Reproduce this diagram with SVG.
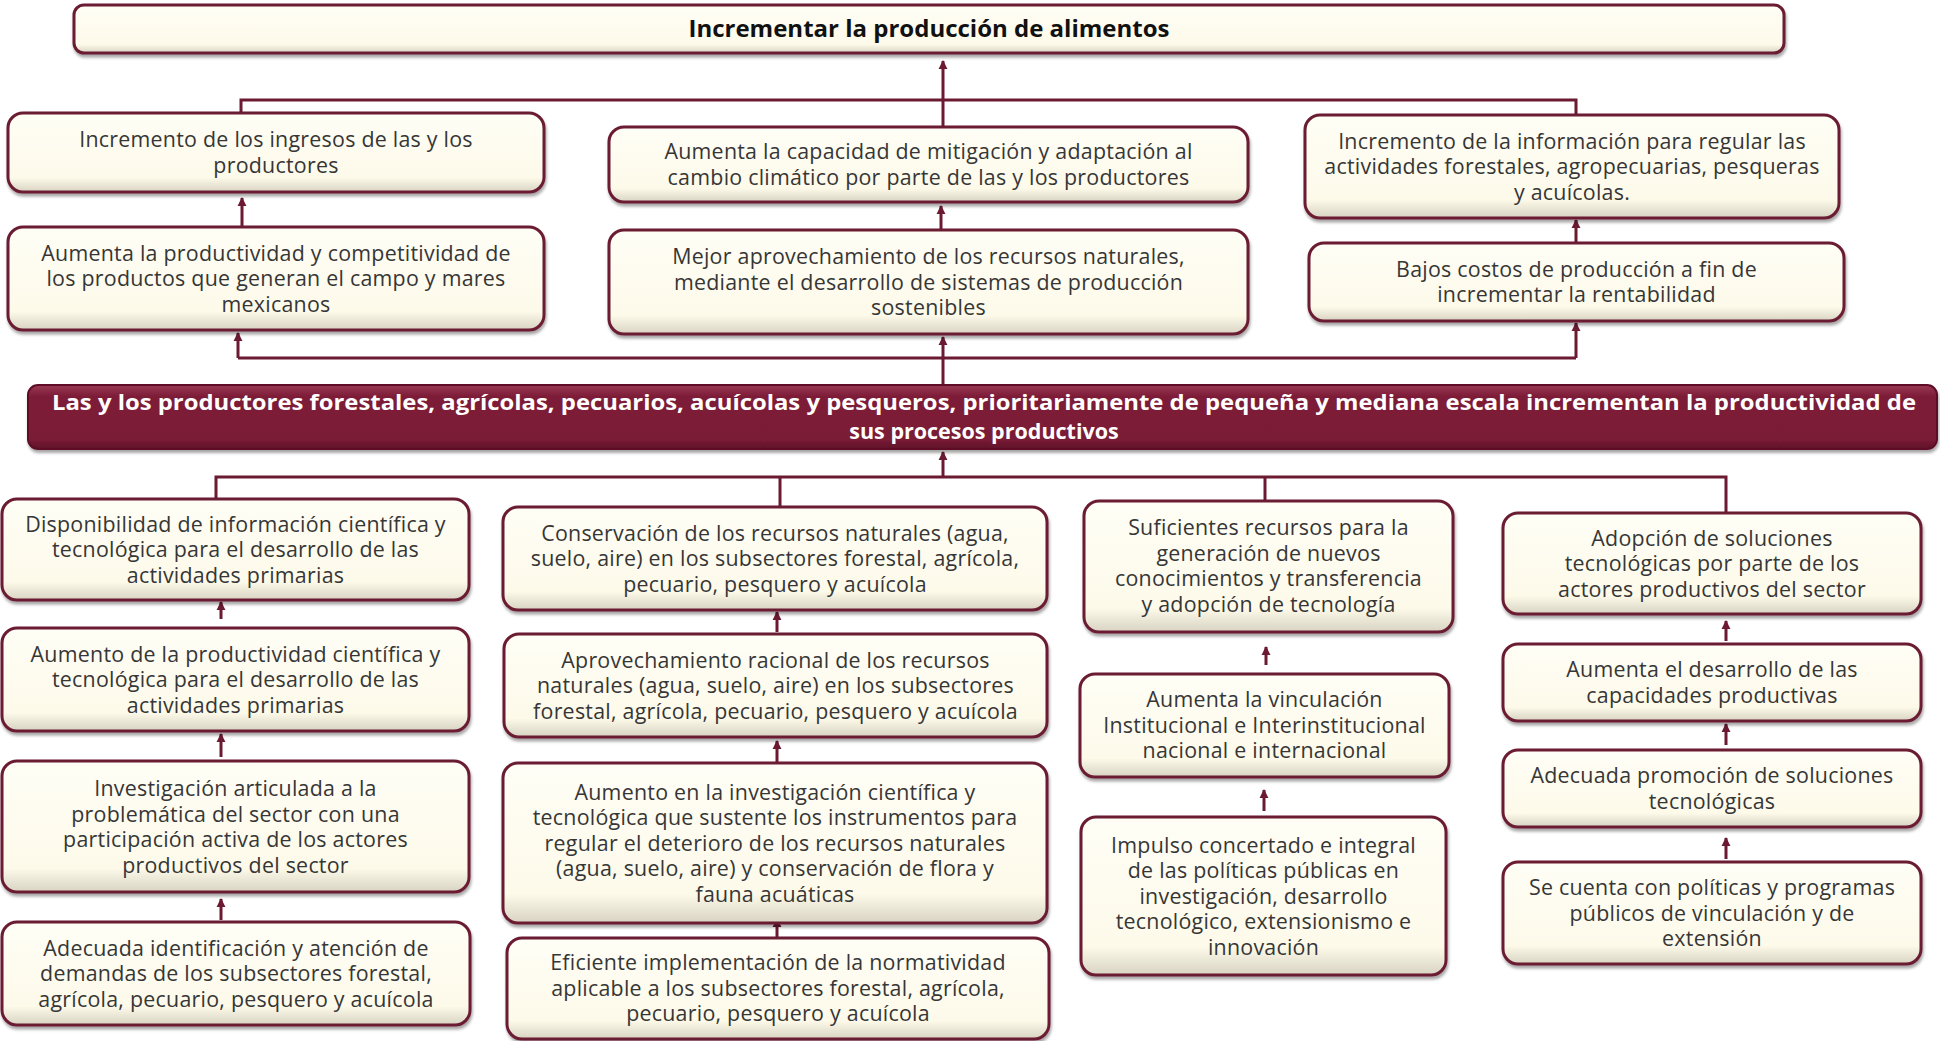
<svg xmlns="http://www.w3.org/2000/svg" width="1940" height="1041" viewBox="0 0 1940 1041">
<defs>
<linearGradient id="cream" x1="0" y1="0" x2="0" y2="1">
<stop offset="0" stop-color="#fffef6"/>
<stop offset="0.82" stop-color="#fdfaea"/>
<stop offset="1" stop-color="#d8d3c2"/>
</linearGradient>
<linearGradient id="wine" x1="0" y1="0" x2="0" y2="1">
<stop offset="0" stop-color="#9a3a55"/>
<stop offset="0.18" stop-color="#7c1d37"/>
<stop offset="0.85" stop-color="#7a1c36"/>
<stop offset="1" stop-color="#5e1028"/>
</linearGradient>
<filter id="sh" x="-5%" y="-10%" width="110%" height="130%">
<feDropShadow dx="1" dy="3" stdDeviation="1.5" flood-color="#000" flood-opacity="0.35"/>
</filter>
<marker id="ah" viewBox="0 0 10 10" refX="9" refY="5" markerWidth="9" markerHeight="10" markerUnits="userSpaceOnUse" orient="auto">
<path d="M0,0 L10,5 L0,10 z" fill="#6b1a31"/>
</marker>
<style>
.box{fill:url(#cream);stroke:#6b1a31;stroke-width:3;filter:url(#sh)}
.main{fill:url(#wine);stroke:#5e1028;stroke-width:2;filter:url(#sh)}
.t{font-family:"Open Sans","Liberation Sans",sans-serif;font-size:21.4px;letter-spacing:0.25px;fill:#363636;text-anchor:middle}
.tb{font-family:"Open Sans","Liberation Sans",sans-serif;font-size:24px;font-weight:bold;fill:#111;text-anchor:middle}
.tw{font-family:"Open Sans","Liberation Sans",sans-serif;font-size:21.5px;font-weight:bold;fill:#fff;text-anchor:middle}
.c{fill:none;stroke:#6b1a31;stroke-width:3}
.a{fill:none;stroke:#6b1a31;stroke-width:3;marker-end:url(#ah)}
</style>
</defs>

<g id="connectors">
<path class="a" d="M943,127 V61"/>
<path class="c" d="M241,113 V100 H1576 V115"/>
<path class="a" d="M242,227 V198"/>
<path class="a" d="M941,230 V206"/>
<path class="a" d="M1576,243 V220"/>
<path class="c" d="M238,358 H1576"/>
<path class="a" d="M238,358 V333"/>
<path class="a" d="M1576,358 V323"/>
<path class="a" d="M943,385 V337"/>
<path class="a" d="M943,477 V452"/>
<path class="c" d="M216,498 V477 H1726 V513"/>
<path class="c" d="M780,477 V507"/>
<path class="c" d="M1265,477 V501"/>
<path class="a" d="M221,619 V602"/>
<path class="a" d="M221,757 V734"/>
<path class="a" d="M221,920 V899"/>
<path class="a" d="M777,632 V612"/>
<path class="a" d="M777,762 V741"/>
<path class="a" d="M777,938 V919"/>
<path class="a" d="M1266,665 V647"/>
<path class="a" d="M1264,811 V790"/>
<path class="a" d="M1726,641 V621"/>
<path class="a" d="M1726,745 V724"/>
<path class="a" d="M1726,859 V838"/>
</g>

<g id="n-top"><rect class="box" x="74" y="5" width="1710" height="48" rx="10"/>
<text class="tb" x="929" y="37">Incrementar la producción de alimentos</text></g>

<g id="n-e1"><rect class="box" x="8" y="113" width="536" height="79" rx="15"/>
<text class="t" x="276"><tspan x="276" y="147">Incremento de los ingresos de las y los</tspan><tspan x="276" y="173">productores</tspan></text></g>
<g id="n-e2"><rect class="box" x="609" y="127" width="639" height="75" rx="15"/>
<text class="t"><tspan x="928.5" y="159">Aumenta la capacidad de mitigación y adaptación al</tspan><tspan x="928.5" y="185">cambio climático por parte de las y los productores</tspan></text></g>
<g id="n-e3"><rect class="box" x="1305" y="115" width="534" height="103" rx="15"/>
<text class="t"><tspan x="1572" y="148.5">Incremento de la información para regular las</tspan><tspan x="1572" y="174">actividades forestales, agropecuarias, pesqueras</tspan><tspan x="1572" y="199.5">y acuícolas.</tspan></text></g>

<g id="n-c1"><rect class="box" x="8" y="227" width="536" height="103" rx="15"/>
<text class="t"><tspan x="276" y="260.5">Aumenta la productividad y competitividad de</tspan><tspan x="276" y="286">los productos que generan el campo y mares</tspan><tspan x="276" y="311.5">mexicanos</tspan></text></g>
<g id="n-c2"><rect class="box" x="609" y="230" width="639" height="104" rx="15"/>
<text class="t"><tspan x="928.5" y="264">Mejor aprovechamiento de los recursos naturales,</tspan><tspan x="928.5" y="289.5">mediante el desarrollo de sistemas de producción</tspan><tspan x="928.5" y="315">sostenibles</tspan></text></g>
<g id="n-c3"><rect class="box" x="1309" y="243" width="535" height="78" rx="15"/>
<text class="t"><tspan x="1576.5" y="276.5">Bajos costos de producción a fin de</tspan><tspan x="1576.5" y="302">incrementar la rentabilidad</tspan></text></g>

<g id="n-main"><rect class="main" x="28" y="385" width="1909" height="64" rx="10"/>
<text class="tw"><tspan x="984" y="410" textLength="1864" lengthAdjust="spacingAndGlyphs">Las y los productores forestales, agrícolas, pecuarios, acuícolas y pesqueros, prioritariamente de pequeña y mediana escala incrementan la productividad de</tspan><tspan x="984" y="439">sus procesos productivos</tspan></text></g>

<g id="n-b1a"><rect class="box" x="2" y="499" width="467" height="101" rx="15"/>
<text class="t"><tspan x="235.5" y="531.5">Disponibilidad de información científica y</tspan><tspan x="235.5" y="557">tecnológica para el desarrollo de las</tspan><tspan x="235.5" y="582.5">actividades primarias</tspan></text></g>
<g id="n-b1b"><rect class="box" x="2" y="628" width="467" height="103" rx="15"/>
<text class="t"><tspan x="235.5" y="661.5">Aumento de la productividad científica y</tspan><tspan x="235.5" y="687">tecnológica para el desarrollo de las</tspan><tspan x="235.5" y="712.5">actividades primarias</tspan></text></g>
<g id="n-b1c"><rect class="box" x="2" y="761" width="467" height="131" rx="15"/>
<text class="t"><tspan x="235.5" y="796">Investigación articulada a la</tspan><tspan x="235.5" y="821.5">problemática del sector con una</tspan><tspan x="235.5" y="847">participación activa de los actores</tspan><tspan x="235.5" y="872.5">productivos del sector</tspan></text></g>
<g id="n-b1d"><rect class="box" x="2" y="922" width="468" height="103" rx="15"/>
<text class="t"><tspan x="236" y="955.5">Adecuada identificación y atención de</tspan><tspan x="236" y="981">demandas de los subsectores forestal,</tspan><tspan x="236" y="1006.5">agrícola, pecuario, pesquero y acuícola</tspan></text></g>

<g id="n-b2a"><rect class="box" x="503" y="507" width="544" height="103" rx="15"/>
<text class="t"><tspan x="775" y="540.5">Conservación de los recursos naturales (agua,</tspan><tspan x="775" y="566">suelo, aire) en los subsectores forestal, agrícola,</tspan><tspan x="775" y="591.5">pecuario, pesquero y acuícola</tspan></text></g>
<g id="n-b2b"><rect class="box" x="504" y="634" width="543" height="103" rx="15"/>
<text class="t"><tspan x="775.5" y="667.5">Aprovechamiento racional de los recursos</tspan><tspan x="775.5" y="693">naturales (agua, suelo, aire) en los subsectores</tspan><tspan x="775.5" y="718.5">forestal, agrícola, pecuario, pesquero y acuícola</tspan></text></g>
<g id="n-b2c"><rect class="box" x="503" y="763" width="544" height="160" rx="15"/>
<text class="t"><tspan x="775" y="799.5">Aumento en la investigación científica y</tspan><tspan x="775" y="825">tecnológica que sustente los instrumentos para</tspan><tspan x="775" y="850.5">regular el deterioro de los recursos naturales</tspan><tspan x="775" y="876">(agua, suelo, aire) y conservación de flora y</tspan><tspan x="775" y="901.5">fauna acuáticas</tspan></text></g>
<g id="n-b2d"><rect class="box" x="507" y="938" width="542" height="101" rx="15"/>
<text class="t"><tspan x="778" y="970">Eficiente implementación de la normatividad</tspan><tspan x="778" y="995.5">aplicable a los subsectores forestal, agrícola,</tspan><tspan x="778" y="1021">pecuario, pesquero y acuícola</tspan></text></g>

<g id="n-b3a"><rect class="box" x="1084" y="501" width="369" height="131" rx="15"/>
<text class="t"><tspan x="1268.5" y="535">Suficientes recursos para la</tspan><tspan x="1268.5" y="560.5">generación de nuevos</tspan><tspan x="1268.5" y="586">conocimientos y transferencia</tspan><tspan x="1268.5" y="611.5">y adopción de tecnología</tspan></text></g>
<g id="n-b3b"><rect class="box" x="1080" y="674" width="369" height="103" rx="15"/>
<text class="t"><tspan x="1264.5" y="707">Aumenta la vinculación</tspan><tspan x="1264.5" y="732.5">Institucional e Interinstitucional</tspan><tspan x="1264.5" y="758">nacional e internacional</tspan></text></g>
<g id="n-b3c"><rect class="box" x="1081" y="817" width="365" height="158" rx="15"/>
<text class="t"><tspan x="1263.5" y="852.5">Impulso concertado e integral</tspan><tspan x="1263.5" y="878">de las políticas públicas en</tspan><tspan x="1263.5" y="903.5">investigación, desarrollo</tspan><tspan x="1263.5" y="929">tecnológico, extensionismo e</tspan><tspan x="1263.5" y="954.5">innovación</tspan></text></g>

<g id="n-b4a"><rect class="box" x="1503" y="513" width="418" height="101" rx="15"/>
<text class="t"><tspan x="1712" y="545.5">Adopción de soluciones</tspan><tspan x="1712" y="571">tecnológicas por parte de los</tspan><tspan x="1712" y="596.5">actores productivos del sector</tspan></text></g>
<g id="n-b4b"><rect class="box" x="1503" y="644" width="418" height="77" rx="15"/>
<text class="t"><tspan x="1712" y="677">Aumenta el desarrollo de las</tspan><tspan x="1712" y="702.5">capacidades productivas</tspan></text></g>
<g id="n-b4c"><rect class="box" x="1503" y="750" width="418" height="77" rx="15"/>
<text class="t"><tspan x="1712" y="783">Adecuada promoción de soluciones</tspan><tspan x="1712" y="808.5">tecnológicas</tspan></text></g>
<g id="n-b4d"><rect class="box" x="1503" y="862" width="418" height="102" rx="15"/>
<text class="t"><tspan x="1712" y="895">Se cuenta con políticas y programas</tspan><tspan x="1712" y="920.5">públicos de vinculación y de</tspan><tspan x="1712" y="946">extensión</tspan></text></g>
</svg>
